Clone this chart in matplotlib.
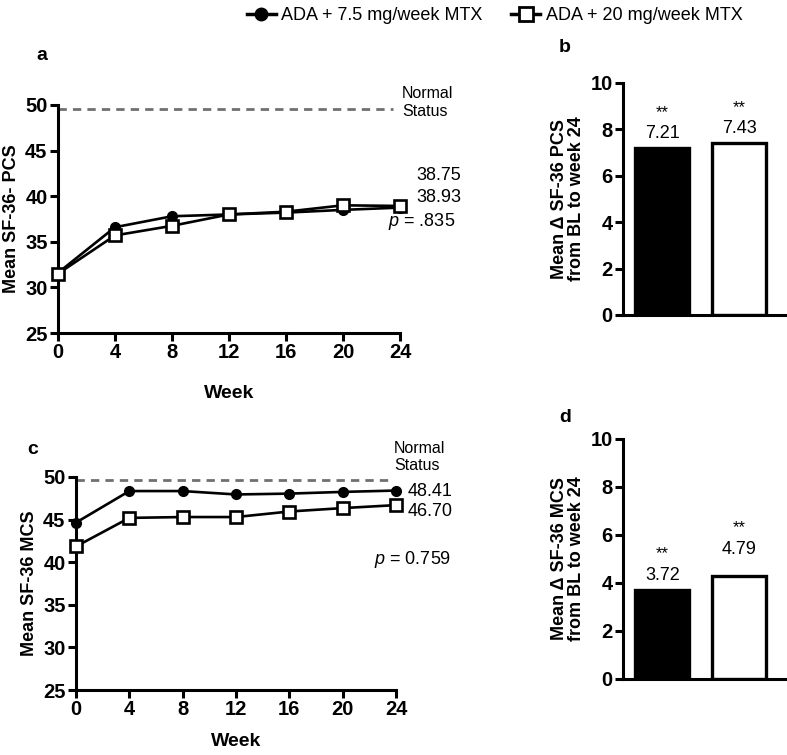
import matplotlib
matplotlib.use('Agg')
from matplotlib import pyplot as plt
from matplotlib.lines import Line2D

plt.rcParams['font.family'] = ['Liberation Sans', 'DejaVu Sans']
plt.rcParams['mathtext.fontset'] = 'custom'
plt.rcParams['mathtext.it'] = 'Liberation Sans:italic'
plt.rcParams['mathtext.rm'] = 'Liberation Sans'

# Data
weeks = [0, 4, 8, 12, 16, 20, 24]
pcs_low = [31.6, 36.6, 37.8, 38.0, 38.2, 38.5, 38.75]
pcs_high = [31.5, 35.7, 36.75, 38.0, 38.3, 39.0, 38.93]
mcs_low = [44.65, 48.35, 48.35, 47.95, 48.05, 48.25, 48.41]
mcs_high = [41.85, 45.2, 45.3, 45.3, 45.95, 46.35, 46.70]
normal_pcs = 49.6
normal_mcs = 49.6

bar_pcs = [7.21, 7.43]
bar_pcs_labels = ['7.21', '7.43']
bar_mcs = [3.72, 4.3]
bar_mcs_labels = ['3.72', '4.79']

groups = ['ADA + 7.5 mg/week MTX', 'ADA + 20 mg/week MTX']

W, H = 787, 755
fig = plt.figure(figsize=(W/100, H/100), dpi=100)

def box(left, right, top, bottom):
    return [left/W, (H-bottom)/H, (right-left)/W, (bottom-top)/H]

def fp(x, y):
    return (x/W, (H-y)/H)

lw = 1.9
spine_w = 2.2
tick_fs = 14.5

def style(ax, xt, yt):
    for s in ['top', 'right']:
        ax.spines[s].set_visible(False)
    for s in ['left', 'bottom']:
        ax.spines[s].set_linewidth(spine_w)
    ax.tick_params(width=spine_w, length=5.5, pad=2)
    ax.set_yticks(yt)
    ax.set_yticklabels([str(v) for v in yt], fontsize=tick_fs, fontweight='bold')
    if xt:
        ax.set_xticks(xt)
        ax.set_xticklabels([str(v) for v in xt], fontsize=tick_fs, fontweight='bold')
    else:
        ax.set_xticks([])

def line_panel(ax, low, high, normal, ylabel, pad):
    ax.plot([0, 23.5], [normal, normal], color='#707070', lw=2, ls=(0, (3, 2.2)), clip_on=False)
    ax.plot(weeks, low, color='black', lw=lw, marker='o', ms=7, mfc='black', mec='black',
            clip_on=False, zorder=3)
    ax.plot(weeks, high, color='black', lw=lw, marker='s', ms=9, mfc='white', mec='black',
            mew=1.9, clip_on=False, zorder=4)
    ax.set_xlim(0, 24)
    ax.set_ylim(25, 50)
    ax.set_xlabel('Week', fontsize=14, fontweight='bold', labelpad=pad)
    ax.set_ylabel(ylabel, fontsize=13, fontweight='bold', labelpad=4)
    style(ax, weeks, [25, 30, 35, 40, 45, 50])

def bar_panel(ax, vals, labels, ylabel):
    ax.bar([0, 1], vals, width=0.7, color=['black', 'white'], edgecolor='black', linewidth=2.4)
    ax.set_xlim(-0.51, 1.62)
    ax.set_ylim(0, 10)
    ax.set_ylabel(ylabel, fontsize=13, fontweight='bold', labelpad=4, linespacing=1.0)
    for i, (v, t) in enumerate(zip(vals, labels)):
        y = max(v, float(t))
        ax.text(i, y + 0.25, t, ha='center', va='bottom', fontsize=13)
        ax.text(i, y + 1.2, '**', ha='center', va='bottom', fontsize=12)
    style(ax, None, [0, 2, 4, 6, 8, 10])

# Panel a
ax_a = fig.add_axes(box(58, 400, 105, 333))
line_panel(ax_a, pcs_low, pcs_high, normal_pcs, 'Mean SF-36- PCS', 16)

# Panel c
ax_c = fig.add_axes(box(76, 396, 477, 690))
line_panel(ax_c, mcs_low, mcs_high, normal_mcs, 'Mean SF-36 MCS', 10)

# Panel b
ax_b = fig.add_axes(box(623, 787, 83, 315))
bar_panel(ax_b, bar_pcs, bar_pcs_labels, 'Mean \u0394 SF-36 PCS\nfrom BL to week 24')

# Panel d
ax_d = fig.add_axes(box(623, 787, 439, 679))
bar_panel(ax_d, bar_mcs, bar_mcs_labels, 'Mean \u0394 SF-36 MCS\nfrom BL to week 24')

# Panel letters
for (x, y), t in zip([(36, 55), (559, 48), (27, 450), (559, 417)], ['a', 'b', 'c', 'd']):
    fig.text(*fp(x, y), t, fontsize=14, fontweight='bold', va='center')

# Annotations panel a
fig.text(*fp(402, 103), 'Normal\nStatus', fontsize=11.5, va='center', linespacing=1.25)
fig.text(*fp(416, 175), '38.75', fontsize=13, va='center')
fig.text(*fp(416, 198), '38.93', fontsize=13, va='center')
fig.text(*fp(388, 221), '$p$ = .835', fontsize=13, va='center')

# Annotations panel c
fig.text(*fp(394, 457), 'Normal\nStatus', fontsize=11.5, va='center', linespacing=1.1)
fig.text(*fp(408, 492), '48.41', fontsize=13, va='center')
fig.text(*fp(408, 512), '46.70', fontsize=13, va='center')
fig.text(*fp(374, 560), '$p$ = 0.759', fontsize=13, va='center')

# Legend
handles = [
    Line2D([], [], color='black', lw=2.5, marker='o', ms=9, mfc='black', mec='black'),
    Line2D([], [], color='black', lw=2.5, marker='s', ms=10, mfc='white', mec='black', mew=2),
]
fig.legend(handles, groups, loc='upper left', bbox_to_anchor=(236/W, 1.005), ncol=2,
           frameon=False, fontsize=13, handlelength=1.6, handletextpad=0.3,
           columnspacing=1.6, borderaxespad=0.2)

fig.savefig('out.png', dpi=100)
